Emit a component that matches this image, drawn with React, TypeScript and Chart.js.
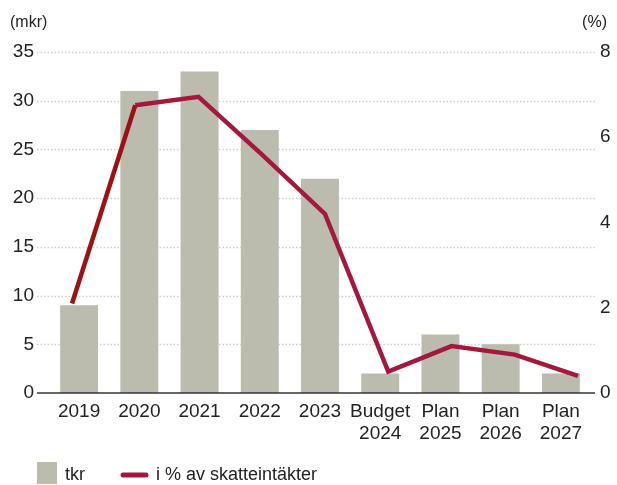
import React, { useEffect, useRef } from "react";
import { Chart, registerables } from "chart.js";

Chart.register(...registerables);

const categories: string[][] = [
  ["2019"],
  ["2020"],
  ["2021"],
  ["2022"],
  ["2023"],
  ["Budget", "2024"],
  ["Plan", "2025"],
  ["Plan", "2026"],
  ["Plan", "2027"],
];
const resultMkr = [9, 31, 33, 27, 22, 2, 6, 5, 2];
const shareOfTax = [2.1, 6.75, 6.95, 5.6, 4.2, 0.5, 1.1, 0.9, 0.4];
const leftTicks = [0, 5, 10, 15, 20, 25, 30, 35];
const rightTicks = [0, 2, 4, 6, 8];
const barLabel = "tkr";
const lineLabel = "i % av skatteintäkter";
const leftUnit = "(mkr)";
const rightUnit = "(%)";

const FONT = "'Liberation Sans', Arial, Helvetica, sans-serif";
const TEXT = "#222222";
const BAR = "#bbbbae";
const LINE = "#a3193d";
const LINE_FIRST = "#9a1212";

const decorPlugin = {
  id: "decor",
  beforeDatasetsDraw(chart: any) {
    const { ctx, scales } = chart;
    const y = scales.y;
    ctx.save();
    ctx.strokeStyle = "#cfcfcf";
    ctx.lineWidth = 1.5;
    ctx.setLineDash([1.5, 2]);
    for (const v of leftTicks) {
      if (v === 0) continue;
      const py = Math.round(y.getPixelForValue(v)) + 0.5;
      ctx.beginPath();
      ctx.moveTo(37, py);
      ctx.lineTo(595, py);
      ctx.stroke();
    }
    ctx.restore();
  },
  afterDatasetsDraw(chart: any) {
    const { ctx, scales } = chart;
    const py = scales.y.getPixelForValue(0);
    ctx.save();
    ctx.strokeStyle = "#333333";
    ctx.lineWidth = 1.5;
    ctx.beginPath();
    ctx.moveTo(37, py);
    ctx.lineTo(595, py);
    ctx.stroke();
    ctx.restore();
  },
  afterDraw(chart: any) {
    const { ctx } = chart;
    ctx.save();
    ctx.fillStyle = TEXT;
    ctx.font = `16px ${FONT}`;
    ctx.textBaseline = "middle";
    ctx.textAlign = "left";
    ctx.fillText(leftUnit, 10, 23);
    ctx.textAlign = "right";
    ctx.fillText(rightUnit, 607, 23);

    // legend
    const cy = 474;
    ctx.fillStyle = BAR;
    ctx.fillRect(37, 462, 20, 22);
    ctx.strokeStyle = LINE;
    ctx.lineWidth = 5;
    ctx.lineCap = "round";
    ctx.beginPath();
    ctx.moveTo(123, cy + 1);
    ctx.lineTo(146, cy + 1);
    ctx.stroke();
    ctx.fillStyle = TEXT;
    ctx.font = `18px ${FONT}`;
    ctx.textAlign = "left";
    ctx.fillText(barLabel, 65, cy + 1);
    ctx.fillText(lineLabel, 156, cy + 1);
    ctx.restore();
  },
};

export default function App() {
  const ref = useRef<HTMLCanvasElement | null>(null);

  useEffect(() => {
    if (!ref.current) return;
    const chart = new Chart(ref.current, {
      type: "bar",
      data: {
        labels: categories,
        datasets: [
          {
            type: "bar",
            label: barLabel,
            data: resultMkr,
            backgroundColor: BAR,
            borderWidth: 0,
            yAxisID: "y",
            xAxisID: "x",
            categoryPercentage: 1,
            barPercentage: 0.63,
            grouped: false,
            order: 1,
          },
          {
            type: "line",
            label: lineLabel,
            data: shareOfTax.map((v, i) => ({ x: i, y: v })),
            borderColor: LINE,
            borderWidth: 4.5,
            pointRadius: 0,
            tension: 0,
            fill: false,
            yAxisID: "y1",
            xAxisID: "x2",
            order: 0,
            segment: {
              borderColor: (c: any) => (c.p0DataIndex === 0 ? LINE_FIRST : LINE),
            },
          } as any,
        ],
      },
      options: {
        animation: false,
        responsive: true,
        maintainAspectRatio: false,
        layout: { padding: { top: 52, left: 3, right: 0, bottom: 0 } },
        plugins: {
          tooltip: { enabled: false },
          title: { display: false },
          legend: { display: false },
        },
        scales: {
          x: {
            type: "category",
            offset: true,
            grid: { display: false, drawTicks: false },
            border: { display: false },
            ticks: {
              color: TEXT,
              font: { family: FONT, size: 19 },
              padding: 7,
              maxRotation: 0,
              autoSkip: false,
            },
            afterFit: (s: any) => {
              s.height = 92;
            },
          },
          x2: {
            type: "linear",
            display: false,
            offset: false,
            grid: { offset: false },
            min: -0.364,
            max: 8.206,
          },
          y: {
            type: "linear",
            position: "left",
            min: 0,
            max: 35,
            afterBuildTicks: (s: any) => {
              s.ticks = leftTicks.map((v) => ({ value: v }));
            },
            grid: { display: false, drawTicks: false },
            border: { display: false },
            ticks: {
              color: TEXT,
              font: { family: FONT, size: 19 },
              padding: 15,
            },
            afterFit: (s: any) => {
              s.width = 46;
            },
          },
          y1: {
            type: "linear",
            position: "right",
            min: 0,
            max: 8,
            afterBuildTicks: (s: any) => {
              s.ticks = rightTicks.map((v) => ({ value: v }));
            },
            grid: { display: false, drawTicks: false },
            border: { display: false },
            ticks: {
              color: TEXT,
              font: { family: FONT, size: 19 },
              padding: 9,
            },
            afterFit: (s: any) => {
              s.width = 26;
            },
          },
        },
      },
      plugins: [decorPlugin],
    } as any);
    return () => chart.destroy();
  }, []);

  return (
    <div
      style={{
        position: "fixed",
        left: 0,
        top: 0,
        width: 617,
        height: 485,
        background: "#ffffff",
      }}
    >
      <canvas ref={ref} />
    </div>
  );
}
